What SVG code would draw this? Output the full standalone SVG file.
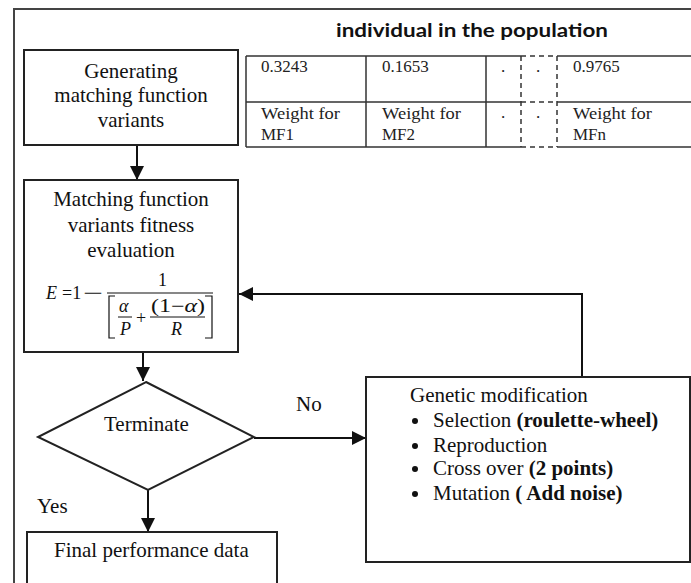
<svg xmlns="http://www.w3.org/2000/svg" width="691" height="583" viewBox="0 0 691 583">
<defs>
<style>
.box{fill:#fff;stroke:#222;stroke-width:2}
.tbl{stroke:#333;stroke-width:1.5;fill:none}
.dash{stroke:#333;stroke-width:1.5;fill:none;stroke-dasharray:5,4}
.t{font-family:"Liberation Serif","Times New Roman",serif;font-size:21px;fill:#111}
.tt{font-family:"Liberation Serif","Times New Roman",serif;font-size:17px;fill:#222}
.m{font-family:"Liberation Serif","Times New Roman",serif;font-size:18px;fill:#111}
.mi{font-family:"Liberation Serif","Times New Roman",serif;font-size:18px;font-style:italic;fill:#111}
.b{font-weight:bold}
.conn{stroke:#111;stroke-width:2;fill:none}
</style>
<marker id="arr" markerUnits="userSpaceOnUse" markerWidth="16" markerHeight="16" refX="14" refY="7" orient="auto">
<path d="M0,0 L14,7 L0,14 Z" fill="#111"/>
</marker>
</defs>
<rect width="691" height="583" fill="#fff"/>
<g id="frame">
<path d="M14,583 V9 H691" stroke="#444" stroke-width="2" fill="none"/>
</g>
<g id="title">
<text x="336" y="37" font-family="Lato,'Liberation Sans',Arial,sans-serif" font-weight="bold" font-size="19" fill="#111" textLength="272" lengthAdjust="spacingAndGlyphs">individual in the population</text>
</g>
<g id="table">
<path class="tbl" d="M246,56 H521 M557,56 H691 M246,102 H521 M557,102 H691 M246,147 H521 M557,147 H691 M246,56 V147 M366,56 V147 M486,56 V147"/>
<path class="dash" d="M521,56 H557 M521,102 H557 M521,147 H557 M521,56 V147 M557,56 V147"/>
<text class="tt" x="261" y="72">0.3243</text>
<text class="tt" x="382" y="72">0.1653</text>
<text class="tt" x="501" y="72">.</text>
<text class="tt" x="536" y="72">.</text>
<text class="tt" x="573" y="72">0.9765</text>
<text class="tt" x="261" y="119" textLength="79" lengthAdjust="spacingAndGlyphs">Weight for</text>
<text class="tt" x="261" y="140">MF1</text>
<text class="tt" x="382" y="119" textLength="79" lengthAdjust="spacingAndGlyphs">Weight for</text>
<text class="tt" x="382" y="140">MF2</text>
<text class="tt" x="501" y="118">.</text>
<text class="tt" x="536" y="118">.</text>
<text class="tt" x="573" y="119" textLength="79" lengthAdjust="spacingAndGlyphs">Weight for</text>
<text class="tt" x="573" y="140">MFn</text>
</g>
<g id="connectors">
<line class="conn" x1="137" y1="145" x2="137" y2="180" marker-end="url(#arr)"/>
<line class="conn" x1="143" y1="352" x2="143" y2="381" marker-end="url(#arr)"/>
<line class="conn" x1="148" y1="490" x2="148" y2="532" marker-end="url(#arr)"/>
<line class="conn" x1="254" y1="438" x2="366" y2="438" marker-end="url(#arr)"/>
<path class="conn" d="M582,377 V294 H239" marker-end="url(#arr)"/>
<text class="t" x="296" y="411">No</text>
<text class="t" x="37" y="513">Yes</text>
</g>
<g id="generate">
<rect class="box" x="24" y="50" width="214" height="95"/>
<text class="t" text-anchor="middle" x="131" y="78">Generating</text>
<text class="t" text-anchor="middle" x="131" y="102">matching function</text>
<text class="t" text-anchor="middle" x="131" y="127">variants</text>
</g>
<g id="evaluate">
<rect class="box" x="24" y="180" width="214" height="172"/>
<text class="t" text-anchor="middle" x="131" y="206">Matching function</text>
<text class="t" text-anchor="middle" x="131" y="232">variants fitness</text>
<text class="t" text-anchor="middle" x="131" y="257">evaluation</text>
<text class="mi" x="46" y="299">E</text>
<text class="m" x="62" y="299">=1</text>
<text class="m" x="83" y="299" textLength="20" lengthAdjust="spacingAndGlyphs">−</text>
<line x1="107" y1="293" x2="213" y2="293" stroke="#111" stroke-width="1.2"/>
<text class="m" x="158" y="286">1</text>
<path d="M115,296 H109 V338 H115 M205,296 H212 V338 H205" stroke="#111" stroke-width="1.2" fill="none"/>
<text class="mi" x="119" y="312">α</text>
<line x1="118" y1="317" x2="132" y2="317" stroke="#111" stroke-width="1"/>
<text class="mi" x="120" y="335">P</text>
<text class="m" x="136" y="324">+</text>
<text class="m" x="151" y="312" textLength="54" lengthAdjust="spacingAndGlyphs">(1−<tspan font-style="italic">α</tspan>)</text>
<line x1="150" y1="317" x2="205" y2="317" stroke="#111" stroke-width="1"/>
<text class="mi" x="171" y="335">R</text>
</g>
<g id="terminate">
<polygon class="box" points="146,382 254,437 148,490 38,437"/>
<text class="t" x="104" y="431">Terminate</text>
</g>
<g id="genetic">
<rect class="box" x="366" y="377" width="324" height="185"/>
<text class="t" x="410" y="402">Genetic modification</text>
<circle cx="415" cy="421" r="3" fill="#111"/>
<circle cx="415" cy="446" r="3" fill="#111"/>
<circle cx="415" cy="469" r="3" fill="#111"/>
<circle cx="415" cy="494" r="3" fill="#111"/>
<text class="t" x="433" y="427">Selection <tspan class="b">(roulette-wheel)</tspan></text>
<text class="t" x="433" y="452">Reproduction</text>
<text class="t" x="433" y="475">Cross over <tspan class="b">(2 points)</tspan></text>
<text class="t" x="433" y="500">Mutation <tspan class="b">( Add noise)</tspan></text>
</g>
<g id="final">
<rect class="box" x="27" y="532" width="250" height="70"/>
<text class="t" x="54" y="557">Final performance data</text>
</g>
</svg>
